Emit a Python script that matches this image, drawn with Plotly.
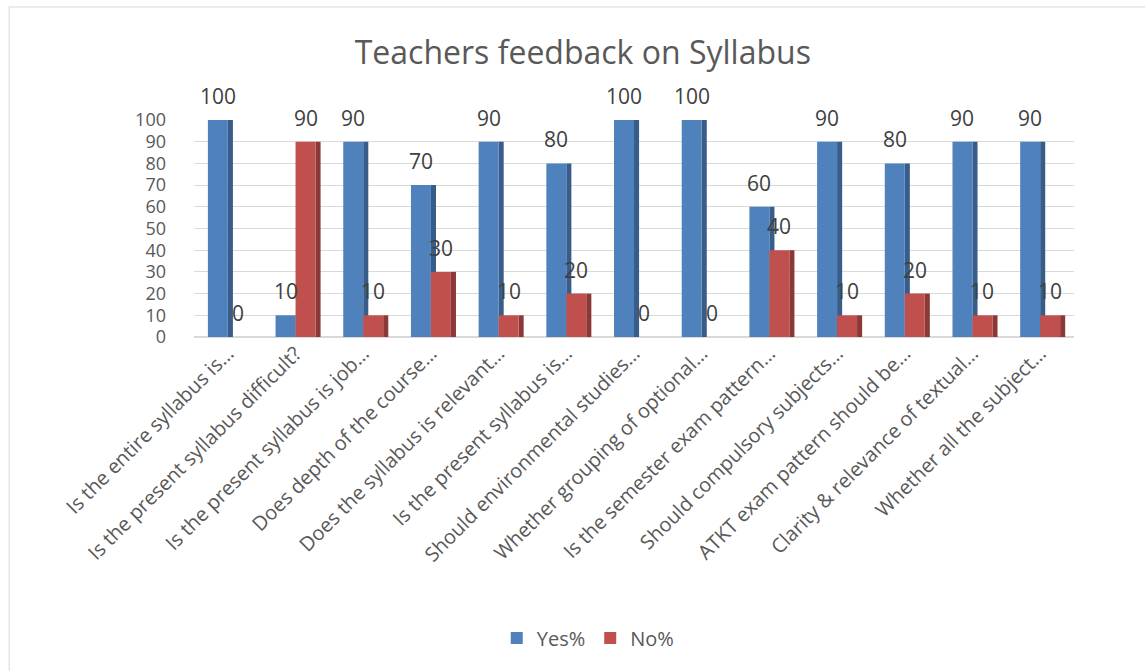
import plotly.graph_objects as go

categories = [
    "Is the entire syllabus is…",
    "Is the present syllabus difficult?",
    "Is the present syllabus is job…",
    "Does depth of the course…",
    "Does the syllabus is relevant…",
    "Is the present syllabus is…",
    "Should environmental studies…",
    "Whether grouping of optional…",
    "Is the semester exam pattern…",
    "Should compulsory subjects…",
    "ATKT exam pattern should be…",
    "Clarity & relevance of textual…",
    "Whether all the subject…",
]
yes_pct = [100, 10, 90, 70, 90, 80, 100, 100, 60, 90, 80, 90, 90]
no_pct = [0, 90, 10, 30, 10, 20, 0, 0, 40, 10, 20, 10, 10]
y_ticks = list(range(0, 101, 10))

BLUE, BLUE_SIDE = "#4f81bd", "#385d8a"
RED, RED_SIDE = "#c0504d", "#8c3836"
W, SIDE = 0.295, 0.075
FONT = "Open Sans, Liberation Sans, sans-serif"

fig = go.Figure()
fig.add_trace(go.Bar(x=categories, y=yes_pct, offset=0, width=SIDE,
                     marker=dict(color=BLUE_SIDE, line=dict(width=0)),
                     showlegend=False, hoverinfo="skip"))
fig.add_trace(go.Bar(x=categories, y=yes_pct, name="Yes%", offset=-W, width=W,
                     marker=dict(color=BLUE, line=dict(width=0))))
fig.add_trace(go.Bar(x=categories, y=no_pct, offset=W, width=SIDE,
                     marker=dict(color=RED_SIDE, line=dict(width=0)),
                     showlegend=False, hoverinfo="skip"))
fig.add_trace(go.Bar(x=categories, y=no_pct, name="No%", offset=0, width=W,
                     marker=dict(color=RED, line=dict(width=0))))

annotations = []
for series, shift in ((yes_pct, -10), (no_pct, 10)):
    for c, v in zip(categories, series):
        annotations.append(dict(x=c, y=v, xref="x", yref="y", text=str(v),
                                showarrow=False, xshift=shift, yshift=24,
                                yanchor="middle",
                                font=dict(family=FONT, size=21, color="#404040")))

fig.update_layout(
    width=1145, height=671,
    margin=dict(l=194, r=71, t=120, b=334, autoexpand=False),
    paper_bgcolor="white", plot_bgcolor="white",
    barmode="overlay",
    title=dict(text="Teachers feedback on Syllabus", x=0.509, xanchor="center",
               y=0.922, yanchor="middle",
               font=dict(family=FONT, size=32, color="#595959")),
    xaxis=dict(tickangle=-45, showgrid=False, showline=False, ticks="",
               automargin=False,
               tickfont=dict(family=FONT, size=20, color="#595959")),
    yaxis=dict(range=[0, 100], tickvals=y_ticks, showgrid=True,
               gridcolor="#d9d9d9", gridwidth=1, zeroline=True,
               zerolinecolor="#d9d9d9", showline=False, ticks="",
               ticklabelstandoff=27, automargin=False,
               tickfont=dict(family=FONT, size=18, color="#595959")),
    legend=dict(orientation="h", x=0.448, xanchor="center", y=-1.387,
                yanchor="middle", font=dict(family=FONT, size=20, color="#595959"),
                itemwidth=30),
    annotations=annotations,
    shapes=[dict(type="rect", xref="paper", yref="paper", x0=-0.210, x1=1.09,
                 y0=-1.6, y1=1.521, line=dict(color="#d9d9d9", width=1),
                 layer="below")],
)

fig.write_html("out.html", config={"displayModeBar": False},
               post_script="document.body.style.margin='0px';")
